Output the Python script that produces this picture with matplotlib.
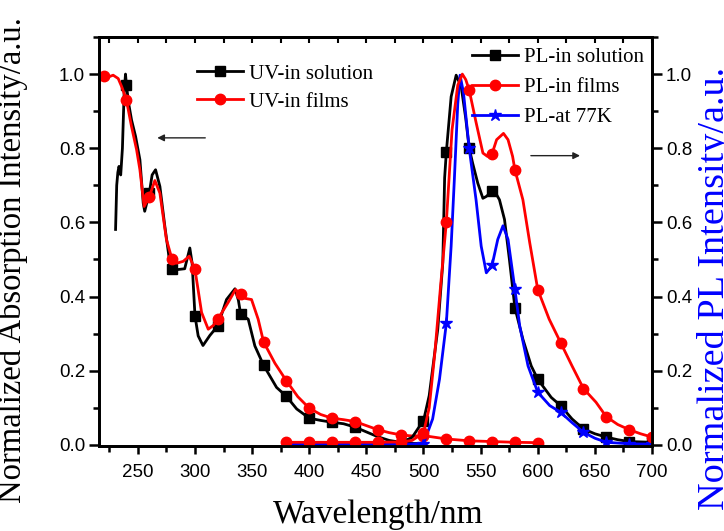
import numpy as np
import matplotlib
matplotlib.use("Agg")
import matplotlib.pyplot as plt
from matplotlib.ticker import MultipleLocator

# ---- absorption spectra (left axis) ----
uv_sol_wl = [230.5, 231.5, 232.5, 233.5, 235, 236.5, 238, 239.2, 240, 242, 244.5, 248,
             251.8, 254.7, 256, 260, 262.5, 265.5, 269.3, 273.6, 278, 280, 285.3, 291,
             295.5, 297.5, 300, 302.8, 307, 313, 320, 327.6, 335, 338, 340, 346.6, 352.4,
             360, 371.4, 380, 389, 400, 410, 420, 430, 440, 450, 460, 470, 480, 490, 500]
uv_sol_abs = [0.581, 0.70, 0.735, 0.751, 0.728, 0.80, 0.95, 1.0, 0.97, 0.92, 0.876, 0.832,
              0.769, 0.652, 0.63, 0.679, 0.728, 0.742, 0.697, 0.59, 0.49, 0.475, 0.473, 0.475,
              0.531, 0.49, 0.348, 0.294, 0.268, 0.295, 0.321, 0.392, 0.421, 0.39, 0.352, 0.339, 0.267,
              0.215, 0.155, 0.131, 0.097, 0.072, 0.066, 0.061, 0.057, 0.048, 0.035, 0.022, 0.012, 0.007, 0.004, 0.003]

uv_film_wl = [220, 224, 228.4, 232.8, 236, 240, 244.5, 248.9, 251.8, 255.5, 260, 264.9, 269.3,
              275, 280, 284, 289.7, 295, 300, 305.8, 311.6, 316, 320, 329, 335.5, 340, 344,
              349.5, 355.3, 360, 370, 380, 390, 400, 410, 420, 430, 440, 450, 460, 470, 480,
              490, 500, 520, 540, 560, 580, 600]
uv_film_abs = [0.995, 0.992, 0.997, 0.988, 0.965, 0.93, 0.858, 0.796, 0.742, 0.643, 0.669, 0.713, 0.679,
               0.554, 0.50, 0.49, 0.495, 0.509, 0.473, 0.357, 0.312, 0.322, 0.339, 0.384, 0.419, 0.406, 0.395,
               0.392, 0.339, 0.278, 0.22, 0.173, 0.13, 0.099, 0.082, 0.072, 0.068, 0.063, 0.052, 0.041, 0.033, 0.027,
               0.024, 0.025, 0.016, 0.011, 0.009, 0.007, 0.006]

# ---- emission spectra (right axis) ----
pl_sol_wl = [380, 400, 420, 440, 460, 480, 490, 496.5, 500, 505, 512.5, 516.9, 518.5, 520, 524.2,
             528.6, 533, 537, 540, 543, 547.5, 552, 555, 560, 563, 566.5, 570.9, 575.2, 580, 587,
             594.3, 600, 611.8, 620, 630, 640, 650, 660, 670, 680, 690, 700]
pl_sol_int = [0.003, 0.002, 0.003, 0.008, 0.004, 0.006, 0.02, 0.05, 0.065, 0.133, 0.312, 0.491, 0.72, 0.79, 0.939,
              0.997, 0.966, 0.88, 0.80, 0.76, 0.706, 0.665, 0.67, 0.684, 0.68, 0.661, 0.608, 0.5, 0.37, 0.285,
              0.213, 0.177, 0.128, 0.106, 0.07, 0.043, 0.03, 0.021, 0.014, 0.009, 0.008, 0.007]

pl_film_wl = [380, 400, 420, 440, 460, 480, 490, 500, 505, 510, 515, 520, 525, 530, 534, 537, 540,
              546, 552, 556, 560, 564, 570, 574, 578, 580, 587, 593, 600, 610, 620, 630, 640, 651,
              660, 670, 680, 690, 700]
pl_film_int = [0.007, 0.007, 0.007, 0.007, 0.007, 0.008, 0.012, 0.032, 0.10, 0.25, 0.43, 0.60, 0.85, 0.97, 1.0, 0.985, 0.957,
               0.87, 0.787, 0.778, 0.785, 0.823, 0.84, 0.823, 0.778, 0.742, 0.661, 0.545, 0.419, 0.339, 0.276, 0.213, 0.152, 0.115,
               0.076, 0.055, 0.041, 0.03, 0.021]

pl_77k_wl = [380, 400, 420, 440, 460, 480, 500, 508, 514, 520, 524.2, 527, 530, 532, 535, 540, 546,
             550.5, 555, 560, 565, 569.6, 574, 580, 584.2, 591.5, 600, 610.5, 620, 630, 640, 650,
             660, 680, 700]
pl_77k_int = [0.002, 0.002, 0.002, 0.002, 0.002, 0.002, 0.003, 0.07, 0.177, 0.328, 0.536, 0.715, 0.92, 0.997, 0.95, 0.80, 0.661,
              0.536, 0.464, 0.484, 0.554, 0.591, 0.554, 0.42, 0.321, 0.213, 0.142, 0.106, 0.088, 0.06, 0.034, 0.018,
              0.007, 0.003, 0.002]

SERIF = "Liberation Serif"
SANS = "Liberation Sans"


def marks(wl, start, stop):
    """indices of samples lying on the 20 nm marker grid"""
    return [i for i, w in enumerate(wl) if float(w) % 20 == 0 and start <= w <= stop]


fig = plt.figure(figsize=(7.24, 5.31), dpi=100)
ax = fig.add_axes([99 / 724, 1 - 446 / 531, (652 - 99) / 724, (446 - 37) / 531])
ax2 = ax.twinx()

lw = 2.0
ax.plot(uv_sol_wl, uv_sol_abs, color="black", lw=lw, marker="s", ms=6.5,
        markevery=marks(uv_sol_wl, 240, 440), label="UV-in solution")
ax.plot(uv_film_wl, uv_film_abs, color="red", lw=lw, marker="o", ms=7.5,
        markevery=marks(uv_film_wl, 220, 600), label="UV-in films")

ax2.plot(pl_sol_wl, pl_sol_int, color="black", lw=lw, marker="s", ms=6.5,
         markevery=marks(pl_sol_wl, 500, 700), label="PL-in solution")
l77, = ax2.plot(pl_77k_wl, pl_77k_int, color="blue", lw=lw, marker="*", ms=9,
                markevery=marks(pl_77k_wl, 500, 700), label="PL-at 77K")
lfilm, = ax2.plot(pl_film_wl, pl_film_int, color="red", lw=lw, marker="o", ms=7.5,
                  markevery=marks(pl_film_wl, 380, 700), label="PL-in films")

for a in (ax, ax2):
    a.set_xlim(216, 700)
    a.set_ylim(-0.003, 1.1)
    a.yaxis.set_major_locator(MultipleLocator(0.2))
    a.yaxis.set_minor_locator(MultipleLocator(0.1))
    for s in a.spines.values():
        s.set_linewidth(2.0)

ax.xaxis.set_major_locator(MultipleLocator(50))
ax.xaxis.set_minor_locator(MultipleLocator(25))
ax.tick_params(axis="x", which="both", direction="out", bottom=True, top=False, width=1.8)
ax.tick_params(axis="x", which="major", length=6)
ax.tick_params(axis="x", which="minor", length=4)
ax.tick_params(axis="y", which="both", direction="out", left=True, right=False, width=1.8)
ax.tick_params(axis="y", which="major", length=7)
ax.tick_params(axis="y", which="minor", length=4)
ax2.tick_params(axis="y", which="both", direction="out", right=True, width=1.8)
ax2.tick_params(axis="y", which="major", length=7)
ax2.tick_params(axis="y", which="minor", length=4)

# inward ticks along the top edge
top = ax.secondary_xaxis("top")
top.xaxis.set_major_locator(MultipleLocator(25))
top.tick_params(direction="in", length=4, width=1.5, labeltop=False)
top.spines["top"].set_linewidth(2.0)

for lab in ax.get_xticklabels() + ax.get_yticklabels() + ax2.get_yticklabels():
    lab.set_fontfamily(SANS)
    lab.set_fontsize(13.5)
ax.xaxis.set_tick_params(pad=7)
ax.yaxis.set_tick_params(pad=3)
ax2.yaxis.set_tick_params(pad=3)

ax.set_xlabel("Wavelength/nm", fontfamily=SERIF, fontsize=24, va="top")
ax.xaxis.set_label_coords(0.505, -0.131)
ax.set_ylabel("Normalized Absorption Intensity/a.u.", fontfamily=SERIF, fontsize=23.5)
ax.yaxis.set_label_coords(-0.128, 0.455)
ax2.set_ylabel("Normalized PL Intensity/a.u.", fontfamily=SERIF, fontsize=27.5, color="blue")
ax2.yaxis.set_label_coords(1.081, 0.386)

leg_font = {"family": SERIF, "size": 15}
leg1 = ax.legend(loc="upper left", bbox_to_anchor=(0.177, 0.934), frameon=False, prop=leg_font,
                 handlelength=2.2, handletextpad=0.3, borderpad=0, borderaxespad=0,
                 labelspacing=0.41, markerscale=1.0)
h_sol = ax2.get_lines()[0]
leg2 = ax2.legend([h_sol, lfilm, l77], ["PL-in solution", "PL-in films", "PL-at 77K"],
                  loc="upper left", bbox_to_anchor=(0.674, 0.975), frameon=False, prop=leg_font,
                  handlelength=2.2, handletextpad=0.3, borderpad=0, borderaxespad=0,
                  labelspacing=0.5)

arrow = dict(arrowstyle="-|>", color="#222222", lw=1.0, mutation_scale=10, shrinkA=0, shrinkB=0)
ax.annotate("", xy=(267, 0.828), xytext=(309, 0.828), arrowprops=arrow)
ax2.annotate("", xy=(637, 0.78), xytext=(594, 0.78), arrowprops=arrow)

fig.savefig("out.png", dpi=100)
